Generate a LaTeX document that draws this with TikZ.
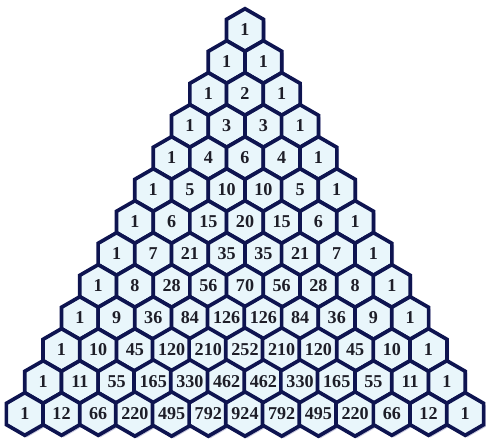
\documentclass[tikz,border=0pt]{standalone}
\usepackage{fontspec}
\setmainfont{Liberation Serif}
\usepackage{tikz}
\usetikzlibrary{shapes.geometric, shadows}

\definecolor{hexnavy}{HTML}{0E1450}
\definecolor{hexfill}{HTML}{E9F6FB}
\definecolor{hextext}{HTML}{1E1E28}

\begin{document}
\begin{tikzpicture}[
  x=0.02cm, y=-0.02cm,
  hexcell/.style = {
    regular polygon, regular polygon sides=6, regular polygon rotate=30,
    draw=hexnavy, line width=2.1pt, fill=hexfill, inner sep=0pt,
    minimum size=0.852cm, text=hextext,
    font=\fontsize{10.3}{12}\selectfont\bfseries,
    drop shadow={shadow xshift=1.2pt, shadow yshift=-1.2pt, opacity=0.35, fill=blue!25!gray}
  }
]
  \useasboundingbox (0,0) rectangle (486,442);

  % Pascal's triangle, one list per row
  \foreach \row [count=\n from 0] in {
      {1},
      {1,1},
      {1,2,1},
      {1,3,3,1},
      {1,4,6,4,1},
      {1,5,10,10,5,1},
      {1,6,15,20,15,6,1},
      {1,7,21,35,35,21,7,1},
      {1,8,28,56,70,56,28,8,1},
      {1,9,36,84,126,126,84,36,9,1},
      {1,10,45,120,210,252,210,120,45,10,1},
      {1,11,55,165,330,462,462,330,165,55,11,1},
      {1,12,66,220,495,792,924,792,495,220,66,12,1}} {
    \foreach \val [count=\k from 0] in \row {
      \node[hexcell] (c-\n-\k) at ({245 + (\k - \n/2)*36.7}, {30 + \n*32}) {\val};
    }
  }

\end{tikzpicture}
\end{document}
